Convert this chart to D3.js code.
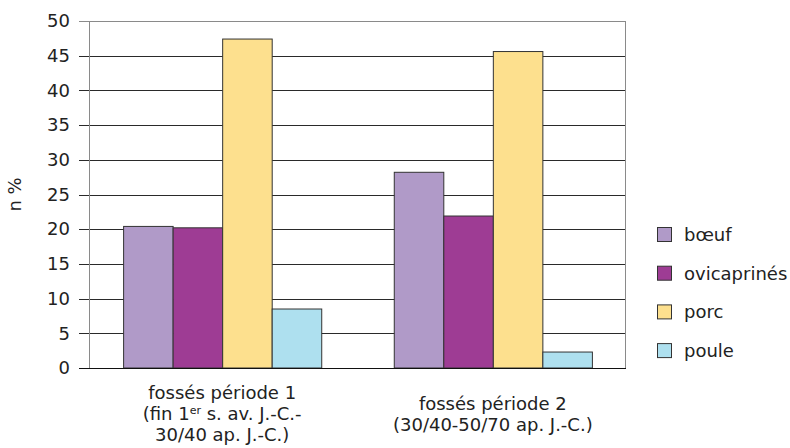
<!DOCTYPE html>
<html>
<head>
<meta charset="utf-8">
<script src="https://cdn.jsdelivr.net/npm/d3@7"></script>
<style>
  body { margin: 0; background: #fff; }
  svg text { font-family: "DejaVu Sans", sans-serif; fill: #222; }
</style>
</head>
<body>
<svg id="chart"></svg>
<script>
const width = 790;
const height = 448;

// données
const periods = ["p1", "p2"];
const species = ["bœuf", "ovicaprinés", "porc", "poule"];
const colors = ["#b09ac8", "#9e3c94", "#fde08e", "#aee0ef"];
const values_p1 = [20.4, 20.2, 47.4, 8.5];
const values_p2 = [28.2, 21.9, 45.6, 2.3];
const yTicks = [0, 5, 10, 15, 20, 25, 30, 35, 40, 45, 50];

const margin = { left: 89, right: 164, top: 21, bottom: 80 };
const plotRight = width - margin.right;
const plotBottom = height - margin.bottom;

const svg = d3.select('#chart')
  .attr('width', width)
  .attr('height', height);

const rows = periods.map((p, i) => ({
  period: p,
  values: species.map((s, j) => ({ key: s, value: [values_p1, values_p2][i][j] }))
}));

let y = d3.scaleLinear()
  .domain([0, 50])
  .range([plotBottom, margin.top]);

let x0 = d3.scaleBand()
  .domain(periods)
  .range([margin.left, plotRight])
  .paddingInner(0.268)
  .paddingOuter(0.126);

let x1 = d3.scaleBand()
  .domain(species)
  .range([0, x0.bandwidth()]);

let color = d3.scaleOrdinal().domain(species).range(colors);

// lignes de grille
svg.append("g")
  .selectAll("line")
  .data(yTicks)
  .join("line")
  .attr("x1", margin.left - 10)
  .attr("x2", plotRight)
  .attr("y1", d => Math.round(y(d)) + 0.5)
  .attr("y2", d => Math.round(y(d)) + 0.5)
  .attr("stroke", d => d == 50 ? "#8a8a8a" : "#2a2a2a")
  .attr("stroke-width", 1);

// cadre gauche et droit
svg.append("line")
  .attr("x1", margin.left + 0.5).attr("x2", margin.left + 0.5)
  .attr("y1", margin.top).attr("y2", plotBottom)
  .attr("stroke", "#8a8a8a");
svg.append("line")
  .attr("x1", plotRight - 0.5).attr("x2", plotRight - 0.5)
  .attr("y1", margin.top).attr("y2", plotBottom)
  .attr("stroke", "#8a8a8a");

// axe y, étiquettes
let yAxis = svg.append("g")
  .attr("transform", `translate(${margin.left - 19},0)`)
  .call(d3.axisLeft(y).tickValues(yTicks).tickSize(0).tickPadding(0));
yAxis.select(".domain").remove();
yAxis.selectAll("text")
  .attr("font-size", "18px")
  .attr("font-family", "DejaVu Sans, sans-serif")
  .attr("fill", "#222");

svg.append("text")
  .attr("transform", `translate(21,${(margin.top + plotBottom) / 2}) rotate(-90)`)
  .attr("text-anchor", "middle")
  .attr("font-size", "18px")
  .text("n %");

// barres
svg.append("g")
  .selectAll("g")
  .data(rows)
  .join("g")
  .attr("transform", d => `translate(${x0(d.period)},0)`)
  .selectAll("rect")
  .data(d => d.values)
  .join("rect")
  .attr("x", d => x1(d.key) + 0.5)
  .attr("y", d => y(d.value))
  .attr("width", x1.bandwidth())
  .attr("height", d => plotBottom - y(d.value))
  .attr("fill", d => color(d.key))
  .attr("stroke", "#333")
  .attr("stroke-width", 1);

// ligne de base
svg.append("line")
  .attr("x1", margin.left - 10).attr("x2", plotRight)
  .attr("y1", plotBottom + 0.5).attr("y2", plotBottom + 0.5)
  .attr("stroke", "#111");

// étiquettes des catégories
let cx1 = x0("p1") + x0.bandwidth() / 2;
let cx2 = x0("p2") + x0.bandwidth() / 2;
let lab1 = svg.append("text")
  .attr("text-anchor", "middle")
  .attr("font-size", "18px")
  .attr("y", 399);
lab1.append("tspan").attr("x", cx1).text("fossés période 1");
let l2 = lab1.append("tspan").attr("x", cx1).attr("dy", 21);
l2.append("tspan").text("(fin 1");
l2.append("tspan").attr("font-size", "11px").attr("dy", -6).text("er");
l2.append("tspan").attr("dy", 6).text(" s. av. J.-C.-");
lab1.append("tspan").attr("x", cx1).attr("dy", 21).text("30/40 ap. J.-C.)");

let lab2 = svg.append("text")
  .attr("text-anchor", "middle")
  .attr("font-size", "18px")
  .attr("y", 410);
lab2.append("tspan").attr("x", cx2).text("fossés période 2");
lab2.append("tspan").attr("x", cx2).attr("dy", 21).text("(30/40-50/70 ap. J.-C.)");

// légende
let legend = svg.append("g")
  .selectAll("g")
  .data(species)
  .join("g")
  .attr("transform", (d, i) => `translate(657,${227 + i * 38.7})`);
legend.append("rect")
  .attr("x", 0.5).attr("y", 0.5)
  .attr("width", 14).attr("height", 14)
  .attr("fill", d => color(d))
  .attr("stroke", "#333");
legend.append("text")
  .attr("x", 27)
  .attr("y", 14)
  .attr("font-size", "18px")
  .text(d => d);
</script>
</body>
</html>
